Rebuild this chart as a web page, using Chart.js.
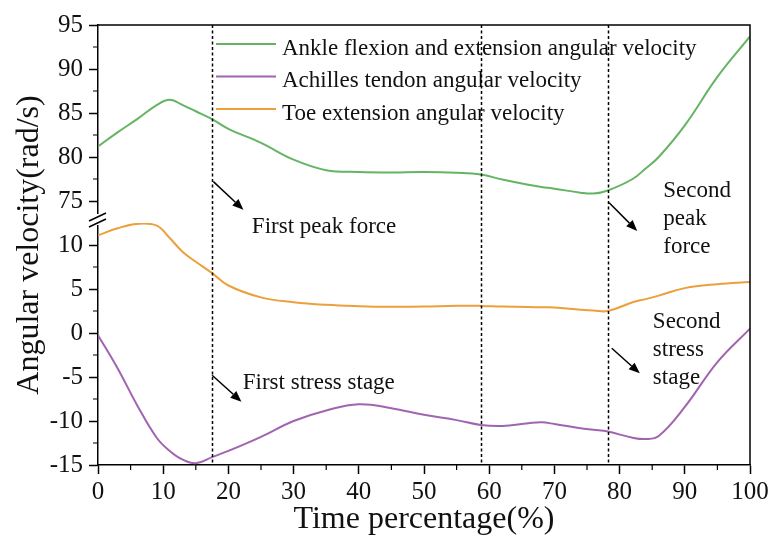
<!DOCTYPE html>
<html>
<head>
<meta charset="utf-8">
<script src="https://cdn.jsdelivr.net/npm/chart.js@4.4.1/dist/chart.umd.min.js"></script>
<style>
  html, body { margin: 0; padding: 0; background: #fff; }
  #wrap { width: 775px; height: 536px; }
</style>
</head>
<body>
<div id="wrap"><canvas id="chart" width="775" height="536"></canvas></div>
<script>
// time (% of the cycle) and the three angular velocity curves (rad/s)
const timePct     = [0, 3, 6, 9, 11, 13, 15, 17.5, 20, 25, 30, 35, 40, 45, 50, 55, 58.7, 62, 66, 68, 70, 74, 76, 78.2, 82, 84, 86, 90, 95, 100];
const ankleVel    = [81.2, 82.8, 84.3, 85.9, 86.5, 85.9, 85.2, 84.3, 83.2, 81.6, 79.7, 78.5, 78.3, 78.25, 78.3, 78.2, 78.0, 77.45, 76.85, 76.6, 76.4, 75.95, 75.85, 76.2, 77.5, 78.7, 80.0, 83.6, 89.1, 93.7];
const achillesVel = [-0.25, -4.0, -8.2, -11.9, -13.4, -14.4, -14.8, -14.1, -13.4, -11.8, -10.0, -8.8, -8.1, -8.55, -9.3, -9.9, -10.45, -10.57, -10.26, -10.15, -10.34, -10.83, -11.0, -11.2, -11.9, -12.05, -11.7, -8.4, -3.3, 0.5];
const toeVel      = [11.1, 11.9, 12.4, 12.2, 10.8, 9.2, 8.1, 6.8, 5.4, 4.05, 3.5, 3.2, 3.05, 2.98, 3.0, 3.1, 3.08, 3.0, 2.95, 2.92, 2.9, 2.65, 2.55, 2.5, 3.5, 3.85, 4.25, 5.1, 5.55, 5.8];

const seriesNames = ['Ankle flexion and extension angular velocity', 'Achilles tendon angular velocity', 'Toe extension angular velocity'];
const seriesColors = ['#64b464', '#a064b0', '#eba03c'];

// broken y axis: upper and lower parts
const upperRange = [72.5, 95];
const lowerRange = [-15, 12.5];

// vertical stage markers (time %)
const stageLines = [17.5, 58.7, 78.2];

const SERIF = "'Liberation Serif', 'Times New Roman', serif";

// annotations in data coordinates
const notes = [
  { lines: ['First peak force'], x: 23.6, y: 11.4, axis: 'yLow' },
  { lines: ['First stress stage'], x: 22.2, y: -6.36, axis: 'yLow' },
  { lines: ['Second', 'peak', 'force'], x: 86.7, y: 75.45, axis: 'yHigh' },
  { lines: ['Second', 'stress', 'stage'], x: 85.1, y: 0.57, axis: 'yLow' }
];
const arrows = [
  { from: [17.7, 77.2, 'yHigh'], to: [22.3, 74.0, 'yHigh'] },
  { from: [17.5, -4.8, 'yLow'], to: [22.0, -7.8, 'yLow'] },
  { from: [78.4, 74.8, 'yHigh'], to: [82.7, 11.6, 'yLow'] },
  { from: [78.8, -1.74, 'yLow'], to: [83.1, -4.58, 'yLow'] }
];

function toPoints(ys) {
  return timePct.map((t, i) => ({ x: t, y: ys[i] }));
}

const extras = {
  id: 'extras',
  afterDatasetsDraw(chart) {
    const { ctx, chartArea: a, scales } = chart;
    const xs = scales.x;
    ctx.save();

    // frame top + right
    ctx.strokeStyle = '#000';
    ctx.lineWidth = 1.5;
    ctx.beginPath();
    ctx.moveTo(a.left, a.top);
    ctx.lineTo(a.right, a.top);
    ctx.lineTo(a.right, a.bottom);
    ctx.stroke();

    // minor ticks
    ctx.lineWidth = 1.2;
    ctx.beginPath();
    for (let v = 5; v < 100; v += 10) {
      const px = xs.getPixelForValue(v);
      ctx.moveTo(px, a.bottom);
      ctx.lineTo(px, a.bottom + 5);
    }
    [scales.yHigh, scales.yLow].forEach(s => {
      s.ticks.forEach(t => {
        const v = t.value + 2.5;
        if (v < s.max) {
          const py = s.getPixelForValue(v);
          ctx.moveTo(a.left, py);
          ctx.lineTo(a.left - 5, py);
        }
      });
      if (s.id === 'yLow') {
        const py = s.getPixelForValue(s.min + 2.5);
        ctx.moveTo(a.left, py);
        ctx.lineTo(a.left - 5, py);
      }
    });
    ctx.stroke();

    // axis break marks
    const yb = scales.yHigh.bottom;
    ctx.fillStyle = '#fff';
    ctx.fillRect(a.left - 3, yb - 9, 6, 11);
    ctx.strokeStyle = '#000';
    ctx.lineWidth = 1.5;
    ctx.beginPath();
    [-6, 0].forEach(d => {
      ctx.moveTo(a.left - 9, yb + d + 4);
      ctx.lineTo(a.left + 8, yb + d - 4);
    });
    ctx.stroke();

    // legend
    ctx.font = '23px ' + SERIF;
    ctx.textAlign = 'left';
    ctx.textBaseline = 'alphabetic';
    chart.data.datasets.forEach((ds, i) => {
      const ly = 44 + i * 32.5;
      ctx.strokeStyle = ds.borderColor;
      ctx.lineWidth = 2;
      ctx.beginPath();
      ctx.moveTo(216, ly);
      ctx.lineTo(276, ly);
      ctx.stroke();
      ctx.fillStyle = '#111';
      ctx.fillText(ds.label, 282, ly + 10.5);
    });

    // dashed stage lines
    ctx.strokeStyle = '#000';
    ctx.lineWidth = 1.5;
    ctx.setLineDash([3, 2.5]);
    ctx.beginPath();
    stageLines.forEach(t => {
      const px = Math.round(xs.getPixelForValue(t)) + 0.5;
      ctx.moveTo(px, a.top);
      ctx.lineTo(px, a.bottom);
    });
    ctx.stroke();
    ctx.setLineDash([]);

    // annotation texts
    ctx.fillStyle = '#111';
    notes.forEach(n => {
      const px = xs.getPixelForValue(n.x);
      const py = scales[n.axis].getPixelForValue(n.y);
      n.lines.forEach((s, i) => ctx.fillText(s, px, py + i * 28));
    });

    // arrows
    ctx.lineWidth = 1.5;
    arrows.forEach(ar => {
      const x1 = xs.getPixelForValue(ar.from[0]), y1 = scales[ar.from[2]].getPixelForValue(ar.from[1]);
      const x2 = xs.getPixelForValue(ar.to[0]), y2 = scales[ar.to[2]].getPixelForValue(ar.to[1]);
      const ang = Math.atan2(y2 - y1, x2 - x1);
      const hl = 11, hw = 4.5;
      const bx = x2 - hl * Math.cos(ang), by = y2 - hl * Math.sin(ang);
      ctx.beginPath();
      ctx.moveTo(x1, y1);
      ctx.lineTo(bx, by);
      ctx.stroke();
      ctx.beginPath();
      ctx.moveTo(x2, y2);
      ctx.lineTo(bx + hw * Math.sin(ang), by - hw * Math.cos(ang));
      ctx.lineTo(bx - hw * Math.sin(ang), by + hw * Math.cos(ang));
      ctx.closePath();
      ctx.fillStyle = '#000';
      ctx.fill();
    });

    // axis titles
    ctx.fillStyle = '#111';
    ctx.font = '32px ' + SERIF;
    ctx.textAlign = 'center';
    ctx.fillText('Time percentage(%)', (a.left + a.right) / 2, 528);
    ctx.translate(38, (a.top + a.bottom) / 2);
    ctx.rotate(-Math.PI / 2);
    ctx.fillText('Angular velocity(rad/s)', 0, 0);

    ctx.restore();
  }
};

function yAxis(range, weight) {
  return {
    type: 'linear',
    position: 'left',
    stack: 'vel',
    stackWeight: weight,
    min: range[0],
    max: range[1],
    offset: false,
    ticks: {
      stepSize: 5,
      includeBounds: false,
      autoSkip: false,
      color: '#111',
      padding: 6,
      font: { family: SERIF, size: 25 }
    },
    afterBuildTicks: s => { s.ticks = s.ticks.filter(t => t.value % 5 === 0); },
    grid: { drawOnChartArea: false, tickLength: 9, tickColor: '#000', tickWidth: 1.5 },
    border: { color: '#000', width: 1.5 },
    afterFit: s => { s.width = 98; }
  };
}

new Chart(document.getElementById('chart'), {
  type: 'line',
  data: {
    datasets: [
      { label: seriesNames[0], data: toPoints(ankleVel), yAxisID: 'yHigh', borderColor: seriesColors[0] },
      { label: seriesNames[1], data: toPoints(achillesVel), yAxisID: 'yLow', borderColor: seriesColors[1] },
      { label: seriesNames[2], data: toPoints(toeVel), yAxisID: 'yLow', borderColor: seriesColors[2] }
    ]
  },
  options: {
    responsive: false,
    animation: false,
    layout: { padding: { left: 0, top: 25, right: 25, bottom: 0 } },
    elements: {
      line: { borderWidth: 2, tension: 0.4, fill: false },
      point: { radius: 0 }
    },
    plugins: { legend: { display: false }, tooltip: { enabled: false } },
    scales: {
      x: {
        type: 'linear',
        min: 0,
        max: 100,
        ticks: { stepSize: 10, autoSkip: false, color: '#111', padding: 3, maxRotation: 0, font: { family: SERIF, size: 25 } },
        grid: { drawOnChartArea: false, tickLength: 9, tickColor: '#000', tickWidth: 1.5 },
        border: { color: '#000', width: 1.5 },
        afterFit: s => { s.height = 71; }
      },
      yLow: yAxis(lowerRange, lowerRange[1] - lowerRange[0]),
      yHigh: yAxis(upperRange, upperRange[1] - upperRange[0])
    }
  },
  plugins: [extras]
});
</script>
</body>
</html>
